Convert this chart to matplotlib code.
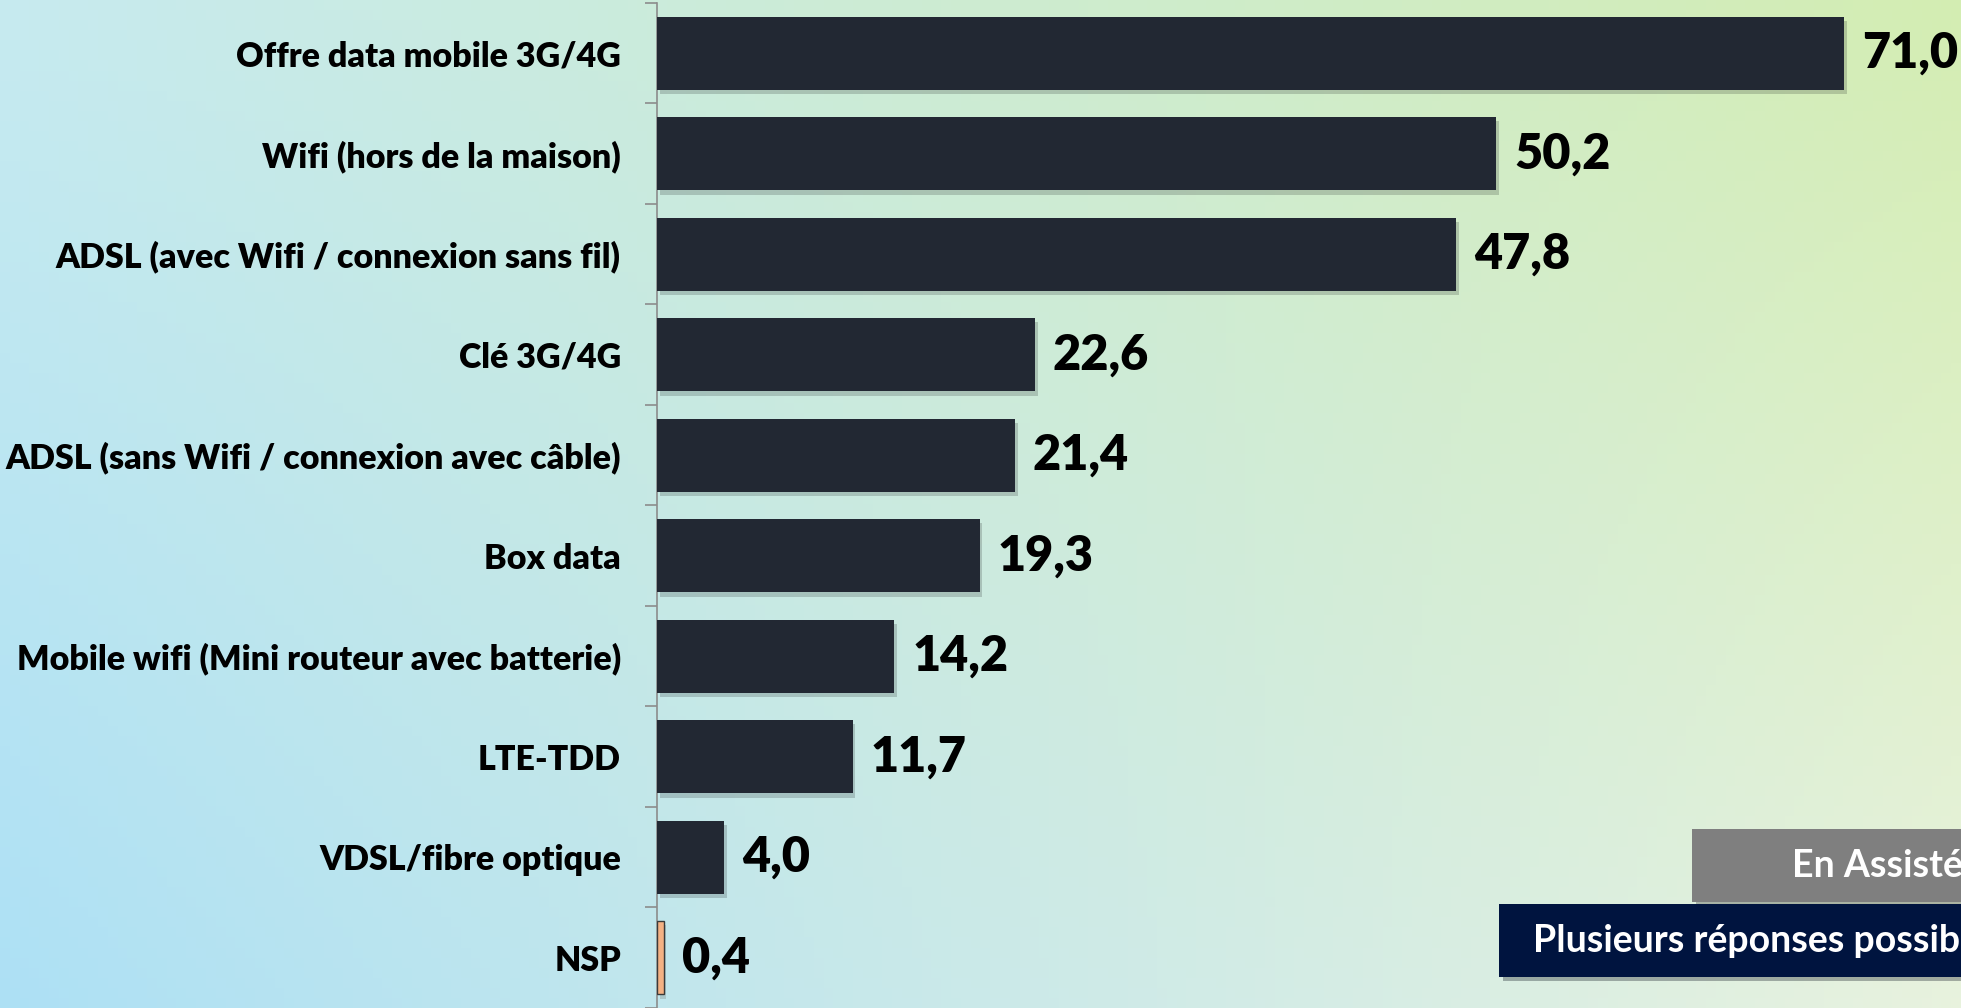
import numpy as np
import matplotlib.pyplot as plt
import matplotlib.patheffects as pe
from matplotlib.patches import Rectangle

# Données
categories = [
    "Offre data mobile 3G/4G",
    "Wifi (hors de la maison)",
    "ADSL (avec Wifi / connexion sans fil)",
    "Clé 3G/4G",
    "ADSL (sans Wifi / connexion avec câble)",
    "Box data",
    "Mobile wifi (Mini routeur avec batterie)",
    "LTE-TDD",
    "VDSL/fibre optique",
    "NSP",
]
valeurs = [71.0, 50.2, 47.8, 22.6, 21.4, 19.3, 14.2, 11.7, 4.0, 0.4]
etiquettes = ["71,0", "50,2", "47,8", "22,6", "21,4", "19,3", "14,2", "11,7", "4,0", "0,4"]
couleurs = ["#222833"] * 9 + ["#f4b183"]

plt.rcParams['font.family'] = ['Lato', 'DejaVu Sans']

fig = plt.figure(figsize=(19.61, 10.08), dpi=100)

# Fond dégradé (bleu à gauche, vert en haut à droite)
bg = fig.add_axes([0, 0, 1, 1], zorder=-10)
gx, gy = np.meshgrid(np.linspace(0, 1, 200), np.linspace(0, 1, 100))
tl = np.array([0.78, 0.92, 0.94])
tr = np.array([0.83, 0.93, 0.70])
bl = np.array([0.68, 0.88, 0.96])
br = np.array([0.91, 0.95, 0.87])
img = ((1 - gx)[..., None] * (1 - gy)[..., None] * tl + gx[..., None] * (1 - gy)[..., None] * tr
       + (1 - gx)[..., None] * gy[..., None] * bl + gx[..., None] * gy[..., None] * br)
bg.imshow(img, aspect='auto', extent=[0, 1, 0, 1], origin='upper')
bg.set_xlim(0, 1)
bg.set_ylim(0, 1)
bg.axis('off')

ax = fig.add_axes([657 / 1961, 0, 1 - 657 / 1961, 1005 / 1008])
ax.patch.set_alpha(0)

y = np.arange(len(categories))
bars = ax.barh(y, valeurs, height=0.73, color=couleurs, zorder=3)
bars[-1].set_edgecolor("#3a3a3a")
bars[-1].set_linewidth(1)
for b in bars:
    b.set_path_effects([pe.SimplePatchShadow(offset=(2, -3), alpha=0.18), pe.Normal()])

for yi, v, lab in zip(y, valeurs, etiquettes):
    ax.annotate(lab, xy=(v, yi), xytext=(13, 0), textcoords='offset points',
                va='center', ha='left', fontsize=35, fontweight='heavy',
                color='black', annotation_clip=False)

ax.set_xlim(0, 78)
ax.set_ylim(len(categories) - 0.5, -0.5)
ax.set_yticks(y)
ax.set_yticklabels(categories, fontsize=24.5, fontweight='heavy')
ax.set_yticks(np.arange(len(categories) + 1) - 0.5, minor=True)
ax.tick_params(axis='y', which='major', length=0, pad=26)
ax.tick_params(axis='y', which='minor', length=9, width=1.2, color='#8c8c8c', direction='out')
ax.set_xticks([])
for s in ['top', 'right', 'bottom']:
    ax.spines[s].set_visible(False)
ax.spines['left'].set_color('#8c8c8c')
ax.spines['left'].set_linewidth(1.2)

# Encadrés en bas à droite
ombre = [pe.SimplePatchShadow(offset=(3, -3), alpha=0.3), pe.Normal()]
r1 = Rectangle((1692 / 1961, 1 - 902 / 1008), 1, 73 / 1008, transform=fig.transFigure,
               facecolor='#7f7f7f', edgecolor='none', zorder=5)
r1.set_path_effects(ombre)
fig.patches.append(r1)
r2 = Rectangle((1499 / 1961, 1 - 977 / 1008), 1, 73 / 1008, transform=fig.transFigure,
               facecolor='#00143f', edgecolor='none', zorder=5)
r2.set_path_effects(ombre)
fig.patches.append(r2)
fig.text(1792 / 1961, 1 - 866 / 1008, "En Assisté", color='white', fontsize=27,
         fontweight='bold', va='center', ha='left', zorder=6)
fig.text(1533 / 1961, 1 - 941 / 1008, "Plusieurs réponses possibles", color='white',
         fontsize=27, fontweight='bold', va='center', ha='left', zorder=6)

fig.savefig("out.png", dpi=100)
